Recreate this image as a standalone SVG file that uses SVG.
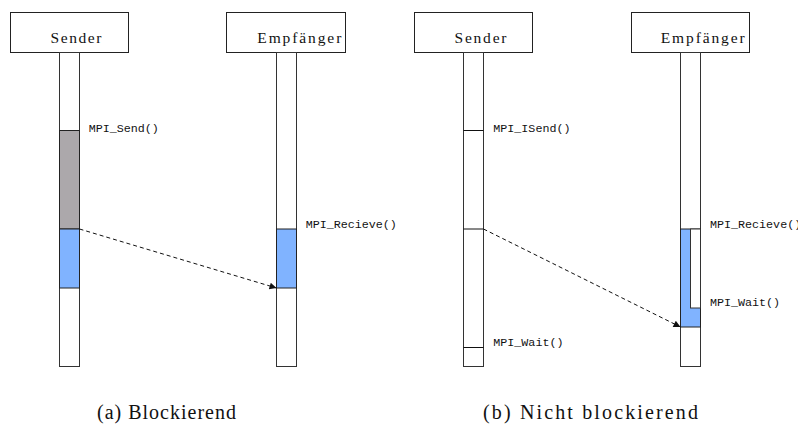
<svg xmlns="http://www.w3.org/2000/svg" width="798" height="434" viewBox="0 0 798 434">
  <style>
    .head { fill: #ffffff; stroke: #222; stroke-width: 1; }
    .life { fill: #ffffff; stroke: #333; stroke-width: 1; }
    .tick { stroke: #111; stroke-width: 1; fill: none; }
    .busy { fill: #aca8ab; stroke: #222; stroke-width: 1; }
    .recv { fill: #80b3ff; stroke: #222; stroke-width: 1; }
    .name { font-family: "Liberation Serif", "DejaVu Serif", serif; font-size: 15.5px; fill: #111; }
    .call { font-family: "Liberation Mono", "DejaVu Sans Mono", monospace; font-size: 11.7px; fill: #111; }
    .cap { font-family: "Liberation Serif", "DejaVu Serif", serif; font-size: 20px; fill: #111; }
    .msg { stroke: #111; stroke-width: 1; stroke-dasharray: 4 3; fill: none; marker-end: url(#head); }
  </style>
  <defs>
    <marker id="head" viewBox="0 0 10 10" refX="10" refY="5" markerWidth="10" markerHeight="7" markerUnits="userSpaceOnUse" orient="auto">
      <path d="M0,0 L10,5 L0,10 z" fill="#111"/>
    </marker>
  </defs>

  <!-- (a) blocking -->
  <g id="a-sender">
    <rect class="head" x="10.5" y="12.5" width="118" height="40"/>
    <text class="name" x="50.5" y="42.5" textLength="51" lengthAdjust="spacing">Sender</text>
    <rect class="life" x="59.5" y="52.5" width="20" height="314"/>
    <rect class="busy" x="59.5" y="130.5" width="20" height="98.5"/>
    <rect class="recv" x="59.5" y="229" width="20" height="59"/>
    <text class="call" x="88.7" y="132">MPI_Send()</text>
  </g>
  <g id="a-receiver">
    <rect class="head" x="226.5" y="12.5" width="119" height="40"/>
    <text class="name" x="257.3" y="42.5" textLength="84" lengthAdjust="spacing">Empfänger</text>
    <rect class="life" x="276.5" y="52.5" width="20" height="314"/>
    <rect class="recv" x="276.5" y="229" width="20" height="59"/>
    <text class="call" x="305.7" y="228">MPI_Recieve()</text>
  </g>

  <!-- (b) non-blocking -->
  <g id="b-sender">
    <rect class="head" x="414.5" y="12.5" width="118" height="40"/>
    <text class="name" x="454.5" y="42.5" textLength="52" lengthAdjust="spacing">Sender</text>
    <rect class="life" x="463.5" y="52.5" width="20" height="314"/>
    <line class="tick" x1="463.5" y1="130.5" x2="483.5" y2="130.5"/>
    <line class="tick" x1="463.5" y1="229" x2="483.5" y2="229"/>
    <line class="tick" x1="463.5" y1="347.5" x2="483.5" y2="347.5"/>
    <text class="call" x="493.3" y="132">MPI_ISend()</text>
    <text class="call" x="493.3" y="346">MPI_Wait()</text>
  </g>
  <g id="b-receiver">
    <rect class="head" x="631.5" y="12.5" width="118" height="40"/>
    <text class="name" x="660.7" y="42.5" textLength="84" lengthAdjust="spacing">Empfänger</text>
    <rect class="life" x="680.5" y="52.5" width="20" height="314"/>
    <rect class="recv" x="680.5" y="229" width="20" height="98"/>
    <rect class="life" x="690.5" y="229" width="10" height="79"/>
    <text class="call" x="710" y="228">MPI_Recieve()</text>
    <text class="call" x="710" y="306">MPI_Wait()</text>
  </g>

  <g id="connectors">
    <line class="msg" x1="79.5" y1="229" x2="276.5" y2="288"/>
    <line class="msg" x1="483.5" y1="229" x2="680.5" y2="327"/>
  </g>

  <g id="captions">
    <text class="cap" x="97" y="419" textLength="139" lengthAdjust="spacing">(a) Blockierend</text>
    <text class="cap" x="483" y="419" textLength="215" lengthAdjust="spacing">(b) Nicht blockierend</text>
  </g>
</svg>
